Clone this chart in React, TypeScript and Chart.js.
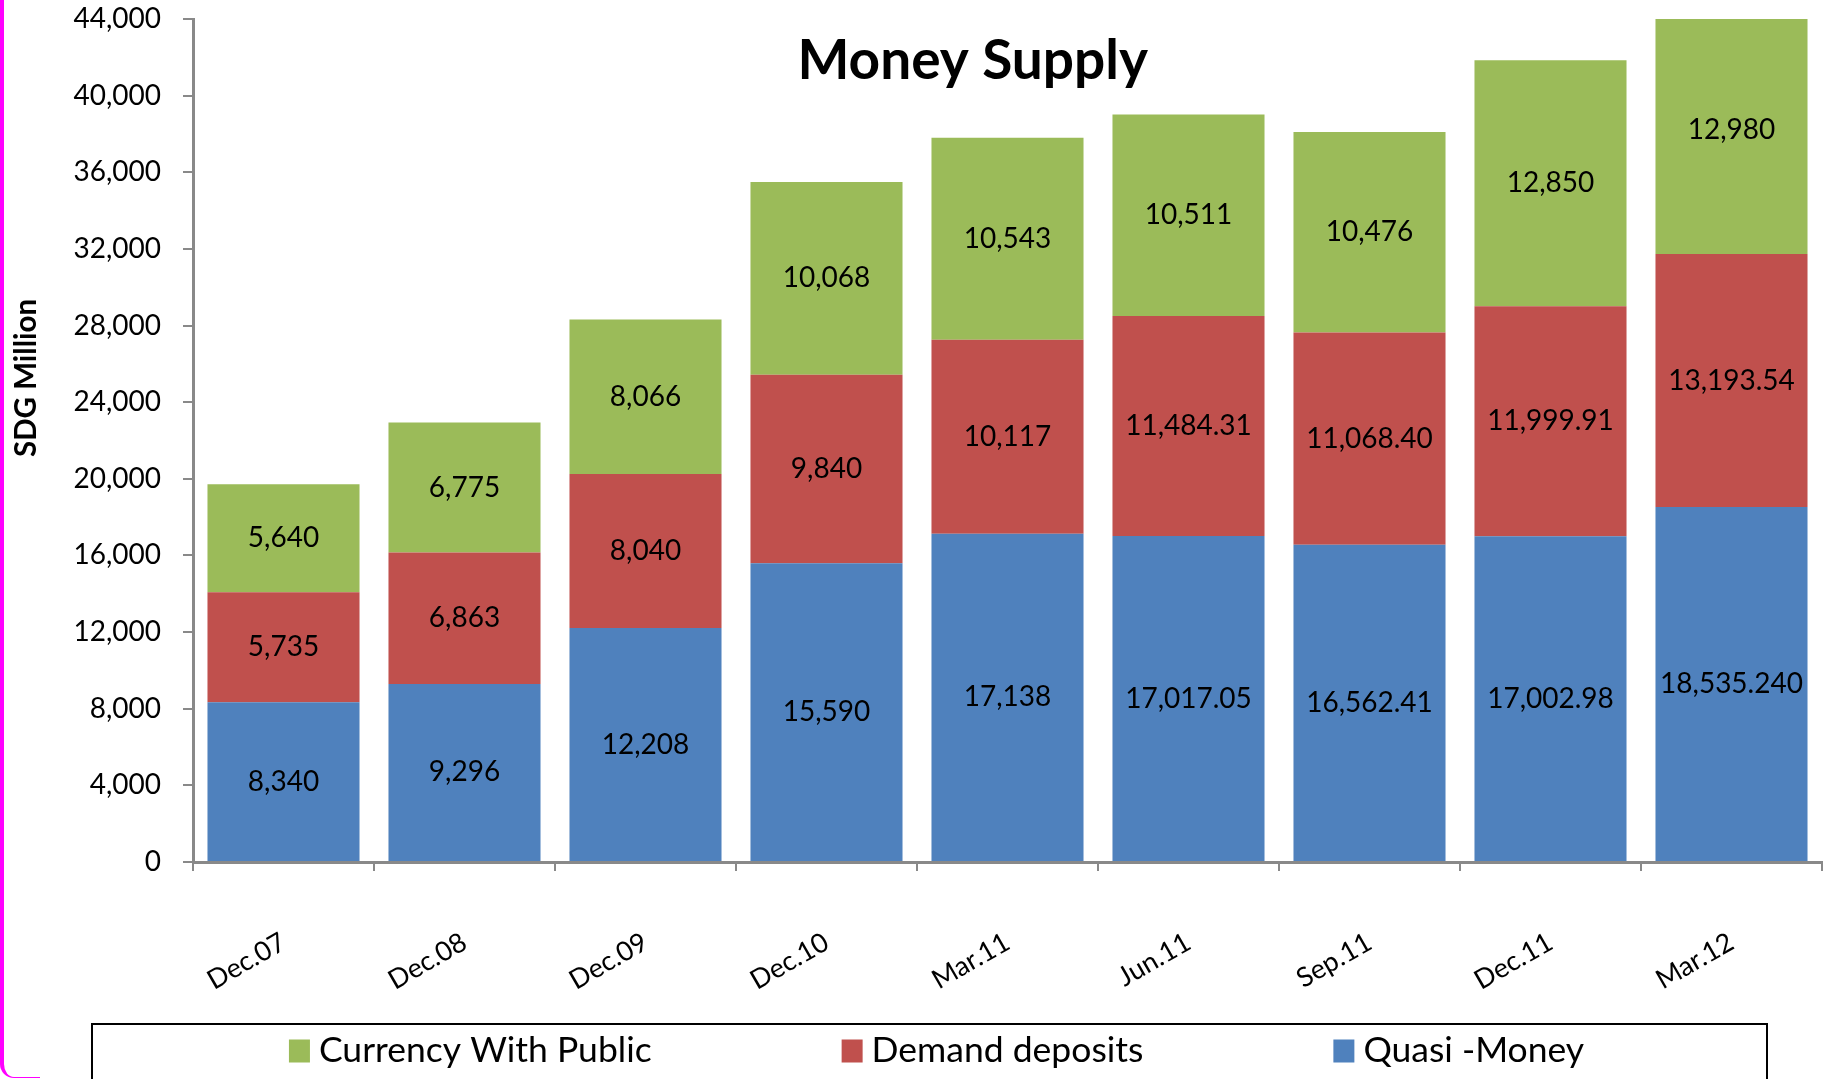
import React, { useEffect, useRef } from "react";
import { Chart, registerables } from "chart.js";

Chart.register(...registerables);

const categories = ["Dec.07", "Dec.08", "Dec.09", "Dec.10", "Mar.11", "Jun.11", "Sep.11", "Dec.11", "Mar.12"];
const quasiMoney = [8340, 9296, 12208, 15590, 17138, 17017.05, 16562.41, 17002.98, 18535.24];
const demandDeposits = [5735, 6863, 8040, 9840, 10117, 11484.31, 11068.4, 11999.91, 13193.54];
const currencyWithPublic = [5640, 6775, 8066, 10068, 10543, 10511, 10476, 12850, 12980];
const quasiMoneyLabels = ["8,340", "9,296", "12,208", "15,590", "17,138", "17,017.05", "16,562.41", "17,002.98", "18,535.240"];
const demandDepositsLabels = ["5,735", "6,863", "8,040", "9,840", "10,117", "11,484.31", "11,068.40", "11,999.91", "13,193.54"];
const currencyLabels = ["5,640", "6,775", "8,066", "10,068", "10,543", "10,511", "10,476", "12,850", "12,980"];
const seriesNames = ["Quasi -Money", "Demand deposits", "Currency With Public"];
const seriesColors = ["#4F81BD", "#C0504D", "#9BBB59"];
const yMin = 0;
const yMax = 44000;
const yStep = 4000;
const chartTitle = "Money Supply";
const yAxisTitle = "SDG Million";

const FONT = "Lato, 'Noto Sans', sans-serif";

const segmentLabelPlugin = {
  id: "segmentLabels",
  afterDatasetsDraw(chart: any) {
    const ctx = chart.ctx;
    ctx.save();
    ctx.font = `28px ${FONT}`;
    ctx.fillStyle = "#000";
    ctx.textAlign = "center";
    ctx.textBaseline = "middle";
    chart.data.datasets.forEach((ds: any, i: number) => {
      const meta = chart.getDatasetMeta(i);
      meta.data.forEach((el: any, j: number) => {
        const p = el.getProps(["x", "y", "base"], true);
        ctx.fillText(ds.valueLabels[j], p.x, (p.y + p.base) / 2);
      });
    });
    ctx.restore();
  },
};

const decorPlugin = {
  id: "decor",
  afterDraw(chart: any) {
    const ctx = chart.ctx;
    const W = chart.width;
    ctx.save();
    // title
    ctx.font = `bold 55px ${FONT}`;
    ctx.fillStyle = "#000";
    ctx.textAlign = "center";
    ctx.textBaseline = "alphabetic";
    ctx.fillText(chartTitle, W * 0.533, 79);
    // y axis title
    ctx.save();
    ctx.translate(26, 378);
    ctx.rotate(-Math.PI / 2);
    ctx.font = `bold 29.5px ${FONT}`;
    ctx.textBaseline = "middle";
    ctx.fillText(yAxisTitle, 0, 0);
    ctx.restore();
    // legend
    const boxL = 92, boxR = 1767, boxT = 1024;
    ctx.strokeStyle = "#000";
    ctx.lineWidth = 2;
    ctx.strokeRect(boxL, boxT, boxR - boxL, 100);
    ctx.font = `35.5px ${FONT}`;
    const items = [2, 1, 0];
    const sw = 21, sh = 23, gapText = 9, spacing = 190;
    const widths = items.map((k) => sw + gapText + ctx.measureText(seriesNames[k]).width);
    const total = widths.reduce((a, b) => a + b, 0) + spacing * (items.length - 1);
    let x = (boxL + boxR) / 2 + 7 - total / 2;
    const cy = 1051;
    ctx.textAlign = "left";
    ctx.textBaseline = "middle";
    items.forEach((k, idx) => {
      ctx.fillStyle = seriesColors[k];
      ctx.fillRect(x, cy - sh / 2, sw, sh);
      ctx.fillStyle = "#000";
      ctx.fillText(seriesNames[k], x + sw + gapText, cy);
      x += widths[idx] + spacing;
    });
    ctx.restore();
  },
};

export default function App() {
  const canvasRef = useRef<HTMLCanvasElement | null>(null);

  useEffect(() => {
    document.body.style.margin = "0";
    const canvas = canvasRef.current;
    if (!canvas) return;
    const chart = new Chart(canvas, {
      type: "bar",
      data: {
        labels: categories,
        datasets: [
          { label: seriesNames[0], data: quasiMoney, backgroundColor: seriesColors[0], valueLabels: quasiMoneyLabels } as any,
          { label: seriesNames[1], data: demandDeposits, backgroundColor: seriesColors[1], valueLabels: demandDepositsLabels } as any,
          { label: seriesNames[2], data: currencyWithPublic, backgroundColor: seriesColors[2], valueLabels: currencyLabels } as any,
        ],
      },
      options: {
        responsive: false,
        animation: false,
        devicePixelRatio: 1,
        layout: { padding: { top: 19, right: 3, left: 0, bottom: 0 } },
        datasets: { bar: { barPercentage: 0.84, categoryPercentage: 1 } },
        plugins: {
          legend: { display: false },
          title: { display: false },
          tooltip: { enabled: false },
        },
        scales: {
          x: {
            stacked: true,
            grid: { display: true, drawOnChartArea: false, drawTicks: true, tickLength: 9, color: "#898989", lineWidth: 2, offset: true },
            border: { display: true, color: "#898989", width: 3 },
            ticks: { maxRotation: 30, minRotation: 30, padding: 55, color: "#000", font: { family: FONT, size: 27 } },
            afterFit(scale: any) {
              scale.height = 217;
              scale.paddingLeft = 0;
              scale.paddingRight = 0;
            },
          },
          y: {
            stacked: true,
            min: yMin,
            max: yMax,
            ticks: {
              stepSize: yStep,
              padding: 22,
              color: "#000",
              font: { family: FONT, size: 28 },
              callback: (v: any) => Number(v).toLocaleString("en-US"),
            },
            grid: { display: true, drawOnChartArea: false, drawTicks: true, tickLength: 10, color: "#898989", lineWidth: 2 },
            border: { display: true, color: "#898989", width: 3 },
            afterFit(scale: any) {
              scale.width = 193;
              scale.paddingTop = 0;
              scale.paddingBottom = 0;
            },
          },
        },
      } as any,
      plugins: [segmentLabelPlugin, decorPlugin],
    });
    return () => chart.destroy();
  }, []);

  return (
    <div style={{ position: "absolute", left: 0, top: 0, width: 1825, height: 1079, overflow: "hidden", background: "#fff" }}>
      <canvas ref={canvasRef} width={1825} height={1079} style={{ display: "block" }} />
      <div
        style={{
          position: "absolute",
          left: 0,
          top: -20,
          width: 40,
          height: 1098,
          borderLeft: "4px solid #ff00ff",
          borderBottom: "1px solid #ff00ff",
          borderBottomLeftRadius: 14,
          boxSizing: "border-box",
          pointerEvents: "none",
        }}
      />
    </div>
  );
}
